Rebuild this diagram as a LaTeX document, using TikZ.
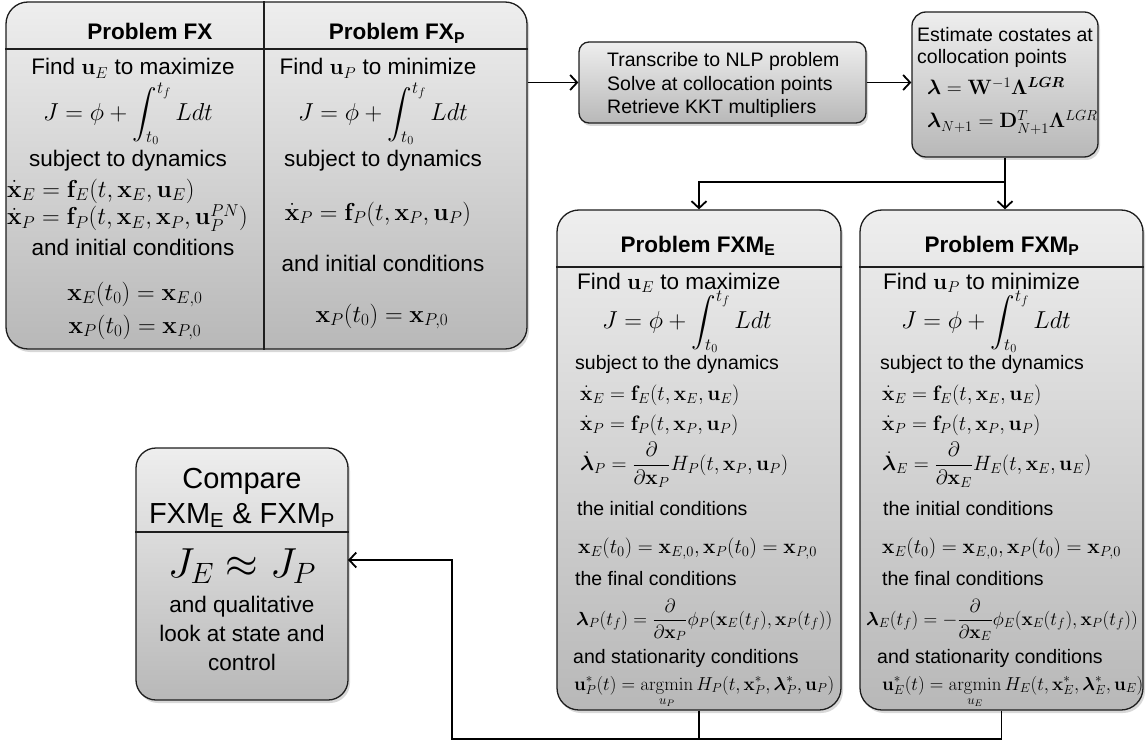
\RequirePackage{fix-cm}
\documentclass[tikz,border=0pt]{standalone}
\usepackage{amsmath,amssymb,bm}
\usepackage[no-math]{fontspec}
\setmainfont{Liberation Sans}
\usetikzlibrary{arrows.meta,shadows,calc}
\DeclareMathOperator*{\argmin}{argmin}
\definecolor{boxtop}{RGB}{238,238,238}
\definecolor{boxbot}{RGB}{184,184,184}
\definecolor{edge}{RGB}{30,30,30}
\newcommand\fsA{\fontsize{22.5}{27}\selectfont}
\newcommand\fsB{\fontsize{19.5}{23.5}\selectfont}
\newcommand\fsM{\fontsize{24.5}{30}\selectfont}
\newcommand\fsN{\fontsize{20.8}{25}\selectfont}
\newcommand\fsF{\fontsize{19}{23}\selectfont}
\newcommand\fsU{\fontsize{18.8}{23}\selectfont}
\newcommand\fsJ{\fontsize{24.5}{30}\selectfont}
\newcommand\fsC{\fontsize{29}{34}\selectfont}
\newcommand\fsCJ{\fontsize{42}{50}\selectfont}
\newcommand\Jeq{$\displaystyle J=\phi+\int_{t_0}^{t_f}Ldt$}
\begin{document}
\begin{tikzpicture}[x=1pt,y=-1pt,
  panel/.style={draw=edge,line width=1.3pt,top color=boxtop,bottom color=boxbot,inner sep=0pt,
    drop shadow={shadow xshift=2pt,shadow yshift=-3pt,opacity=0.3}},
  sep/.style={draw=edge,line width=1.3pt},
  conn/.style={draw=black,line width=1.8pt,-{Straight Barb[length=7pt,width=15pt]}},
  wire/.style={draw=black,line width=1.8pt},
  tx/.style={inner sep=0pt,anchor=base},
  txw/.style={inner sep=0pt,anchor=base west},
  mc/.style={inner sep=0pt,anchor=center},
  mw/.style={inner sep=0pt,anchor=west},
  ttl/.style={inner sep=0pt,anchor=base,font=\fsA\bfseries},
]
\useasboundingbox[fill=white] (0,0) rectangle (1148,746);

% ---------- boxes ----------
\node[panel,rounded corners=22pt,minimum width=521pt,minimum height=347pt] (fx) at (266.5,175.5) {};
\node[panel,rounded corners=10pt,minimum width=287pt,minimum height=81pt] (tr) at (722.5,82.5) {};
\node[panel,rounded corners=14pt,minimum width=186pt,minimum height=145pt] (est) at (1005,84.5) {};
\node[panel,rounded corners=22pt,minimum width=284pt,minimum height=500pt] (fxme) at (699,460) {};
\node[panel,rounded corners=22pt,minimum width=283pt,minimum height=500pt] (fxmp) at (1001.5,460) {};
\node[panel,rounded corners=20pt,minimum width=212pt,minimum height=252pt] (cmp) at (242,574) {};

% ---------- dividers ----------
\coordinate (dv) at (264,0);
\coordinate (h1) at (0,49);
\coordinate (h2) at (0,267);
\coordinate (h3) at (0,532);
\draw[sep] (fx.north -| dv) -- (fx.south -| dv);
\draw[sep] (fx.west |- h1) -- (fx.east |- h1);
\draw[sep] (fxme.west |- h2) -- (fxme.east |- h2);
\draw[sep] (fxmp.west |- h2) -- (fxmp.east |- h2);
\draw[sep] (cmp.west |- h3) -- (cmp.east |- h3);

% ---------- Problem FX ----------
\node[ttl] (fxt1) at (150,40) {Problem FX};
\node[tx,font=\fsA] (a1) at (133,75) {Find $\mathbf{u}_E$ to maximize};
\node[mc,font=\fsJ] (a2) at (128,114) {\Jeq};
\node[tx,font=\fsA] (a3) at (128,167) {subject to dynamics};
\node[txw,font=\fsM] (a4) at (7,197) {$\dot{\mathbf{x}}_E=\mathbf{f}_E(t,\mathbf{x}_E,\mathbf{u}_E)$};
\node[txw,font=\fsM] (a5) at (7,225) {$\dot{\mathbf{x}}_P=\mathbf{f}_P(t,\mathbf{x}_E,\mathbf{x}_P,\mathbf{u}_P^{PN})$};
\node[tx,font=\fsA] (a6) at (133,255) {and initial conditions};
\node[tx,font=\fsM] (a7) at (135,300) {$\mathbf{x}_E(t_0)=\mathbf{x}_{E,0}$};
\node[tx,font=\fsM] (a8) at (135,333) {$\mathbf{x}_P(t_0)=\mathbf{x}_{P,0}$};

% ---------- Problem FX_P ----------
\node[ttl] (fxt2) at (397,40) {Problem FX\textsubscript{P}};
\node[tx,font=\fsA] (b1) at (378,75) {Find $\mathbf{u}_P$ to minimize};
\node[mc,font=\fsJ] (b2) at (383,114) {\Jeq};
\node[tx,font=\fsA] (b3) at (383,167) {subject to dynamics};
\node[tx,font=\fsM] (b4) at (378,220) {$\dot{\mathbf{x}}_P=\mathbf{f}_P(t,\mathbf{x}_P,\mathbf{u}_P)$};
\node[tx,font=\fsA] (b5) at (383,271) {and initial conditions};
\node[tx,font=\fsM] (b6) at (382,322) {$\mathbf{x}_P(t_0)=\mathbf{x}_{P,0}$};

% ---------- Transcribe ----------
\node[txw,font=\fsB] (c1) at (607,67) {Transcribe to NLP problem};
\node[txw,font=\fsB] (c2) at (607,91) {Solve at collocation points};
\node[txw,font=\fsB] (c3) at (607,114) {Retrieve KKT multipliers};

% ---------- Estimate ----------
\node[txw,font=\fsB] (d1) at (917,42) {Estimate costates at};
\node[txw,font=\fsB] (d2) at (917,64) {collocation points};
\node[txw,font=\fsN] (d3) at (927,95) {$\bm{\lambda}=\mathbf{W}^{-1}\bm{\Lambda}^{\bm{LGR}}$};
\node[txw,font=\fsN] (d4) at (927,128) {$\bm{\lambda}_{N+1}=\mathbf{D}_{N+1}^{T}\bm{\Lambda}^{LGR}$};

% ---------- Problem FXM_E ----------
\node[ttl] (et) at (698,252) {Problem FXM\textsubscript{E}};
\node[txw,font=\fsA] (e1) at (577,289) {Find $\mathbf{u}_E$ to maximize};
\node[mc,font=\fsJ] (e2) at (687,322) {\Jeq};
\node[txw,font=\fsB] (e3) at (575,369) {subject to the dynamics};
\node[txw,font=\fsN] (e4) at (580,400) {$\dot{\mathbf{x}}_E=\mathbf{f}_E(t,\mathbf{x}_E,\mathbf{u}_E)$};
\node[txw,font=\fsN] (e5) at (580,430) {$\dot{\mathbf{x}}_P=\mathbf{f}_P(t,\mathbf{x}_P,\mathbf{u}_P)$};
\node[mw,font=\fsN] (e6) at (580,465) {$\displaystyle\dot{\bm{\lambda}}_P=\frac{\partial}{\partial\mathbf{x}_P}H_P(t,\mathbf{x}_P,\mathbf{u}_P)$};
\node[txw,font=\fsB] (e7) at (577,515) {the initial conditions};
\node[txw,font=\fsN] (e8) at (578,553) {$\mathbf{x}_E(t_0)=\mathbf{x}_{E,0},\mathbf{x}_P(t_0)=\mathbf{x}_{P,0}$};
\node[txw,font=\fsB] (e9) at (575,585) {the final conditions};
\node[mw,font=\fsF] (e10) at (576,620) {$\displaystyle\bm{\lambda}_P(t_f)=\frac{\partial}{\partial\mathbf{x}_P}\phi_P(\mathbf{x}_E(t_f),\mathbf{x}_P(t_f))$};
\node[txw,font=\fsB] (e11) at (573,663) {and stationarity conditions};
\node[txw,font=\fsU] (e12) at (574,690) {$\displaystyle\mathbf{u}_P^*(t)=\argmin_{u_P}H_P(t,\mathbf{x}_P^*,\bm{\lambda}_P^*,\mathbf{u}_P)$};

% ---------- Problem FXM_P ----------
\node[ttl] (pt) at (1002,252) {Problem FXM\textsubscript{P}};
\node[txw,font=\fsA] (p1) at (883,289) {Find $\mathbf{u}_P$ to minimize};
\node[mc,font=\fsJ] (p2) at (986,322) {\Jeq};
\node[txw,font=\fsB] (p3) at (880,369) {subject to the dynamics};
\node[txw,font=\fsN] (p4) at (882,400) {$\dot{\mathbf{x}}_E=\mathbf{f}_E(t,\mathbf{x}_E,\mathbf{u}_E)$};
\node[txw,font=\fsN] (p5) at (882,430) {$\dot{\mathbf{x}}_P=\mathbf{f}_P(t,\mathbf{x}_P,\mathbf{u}_P)$};
\node[mw,font=\fsN] (p6) at (882,465) {$\displaystyle\dot{\bm{\lambda}}_E=\frac{\partial}{\partial\mathbf{x}_E}H_E(t,\mathbf{x}_E,\mathbf{u}_E)$};
\node[txw,font=\fsB] (p7) at (883,515) {the initial conditions};
\node[txw,font=\fsN] (p8) at (882,553) {$\mathbf{x}_E(t_0)=\mathbf{x}_{E,0},\mathbf{x}_P(t_0)=\mathbf{x}_{P,0}$};
\node[txw,font=\fsB] (p9) at (882,585) {the final conditions};
\node[mc,font=\fsF] (p10) at (1002,620) {$\displaystyle\bm{\lambda}_E(t_f)=-\frac{\partial}{\partial\mathbf{x}_E}\phi_E(\mathbf{x}_E(t_f),\mathbf{x}_P(t_f))$};
\node[txw,font=\fsB] (p11) at (877,663) {and stationarity conditions};
\node[txw,font=\fsU] (p12) at (882,690) {$\displaystyle\mathbf{u}_E^*(t)=\argmin_{u_E}H_E(t,\mathbf{x}_E^*,\bm{\lambda}_E^*,\mathbf{u}_E)$};

% ---------- Compare ----------
\node[tx,font=\fsC] (k1) at (242,488) {Compare};
\node[tx,font=\fsC] (k2) at (242,523) {FXM\textsubscript{E} \& FXM\textsubscript{P}};
\node[tx,font=\fsCJ] (k3) at (242,577) {$J_E\approx J_P$};
\node[tx,font=\fsA] (k4) at (242,612) {and qualitative};
\node[tx,font=\fsA] (k5) at (242,641) {look at state and};
\node[tx,font=\fsA] (k6) at (242,670) {control};

% ---------- connectors ----------
\draw[conn] (fx.east |- tr.west) -- (tr.west);
\draw[conn] (tr.east) -- (tr.east -| est.west);
\coordinate (split) at (1005,182);
\draw[wire] (est.south) -- (split);
\draw[conn] (split) -- (split |- fxmp.north);
\draw[conn] (split) -| (fxme.north);
\coordinate (bl) at (452,739);
\coordinate (cin) at (348,560);
\draw[wire] (fxme.south) -- (fxme.south |- bl);
\draw[conn] (fxmp.south) |- (bl) |- (cin);
\end{tikzpicture}
\end{document}
